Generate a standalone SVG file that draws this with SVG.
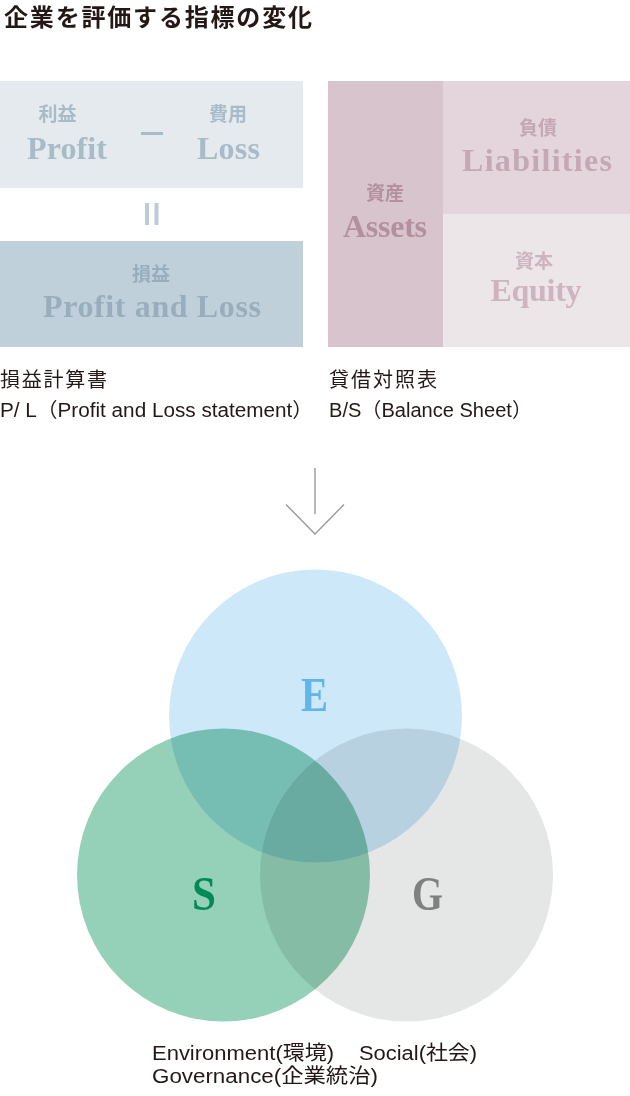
<svg xmlns="http://www.w3.org/2000/svg" width="630" height="1096" viewBox="0 0 630 1096">
<style>
.jp{font-family:"Noto Sans CJK JP","Liberation Sans",sans-serif}
.lbl{font-family:"Liberation Sans","Noto Sans CJK JP",sans-serif;fill:#231815}
.serif{font-family:"Liberation Serif","Noto Serif",serif;font-weight:bold}
.b{font-weight:bold}
.venn{mix-blend-mode:multiply}
</style>
<rect x="0" y="0" width="630" height="1096" fill="#ffffff"/>
<g id="title">
<text class="jp b" x="4" y="26" font-size="24" fill="#231815" textLength="308" lengthAdjust="spacing">企業を評価する指標の変化</text>
</g>
<g id="pl-top">
<rect x="0" y="81" width="303" height="107" fill="#e4eaee"/>
<text class="jp b" x="57.5" y="121" font-size="19" fill="#a8bbc8" text-anchor="middle">利益</text>
<text class="serif" x="67" y="158.5" font-size="32" fill="#a8bbc8" text-anchor="middle" textLength="80" lengthAdjust="spacing">Profit</text>
<rect x="141" y="132" width="22" height="3" fill="#a8bbc8"/>
<text class="jp b" x="228" y="121" font-size="19" fill="#a8bbc8" text-anchor="middle">費用</text>
<text class="serif" x="228.5" y="158.5" font-size="32" fill="#a8bbc8" text-anchor="middle" textLength="63" lengthAdjust="spacing">Loss</text>
</g>
<g id="pl-equals">
<rect x="145" y="203" width="4" height="22" fill="#bccbd6"/>
<rect x="154.5" y="203" width="4" height="22" fill="#bccbd6"/>
</g>
<g id="pl-bottom">
<rect x="0" y="241" width="303" height="106" fill="#bfd0da"/>
<text class="jp b" x="151" y="281" font-size="19" fill="#99aebd" text-anchor="middle">損益</text>
<text class="serif" x="152" y="317" font-size="32" fill="#99aebd" text-anchor="middle" textLength="218" lengthAdjust="spacing">Profit and Loss</text>
</g>
<g id="bs-assets">
<rect x="328" y="81" width="115" height="266" fill="#d8c4cd"/>
<text class="jp b" x="385" y="200" font-size="19" fill="#b3909f" text-anchor="middle">資産</text>
<text class="serif" x="385" y="237" font-size="32" fill="#b3909f" text-anchor="middle" textLength="84" lengthAdjust="spacing">Assets</text>
</g>
<g id="bs-liabilities">
<rect x="443" y="81" width="187" height="133" fill="#e4d5dc"/>
<text class="jp b" x="538" y="135" font-size="19" fill="#c4a8b5" text-anchor="middle">負債</text>
<text class="serif" x="537" y="171" font-size="32" fill="#c4a8b5" text-anchor="middle" textLength="150" lengthAdjust="spacing">Liabilities</text>
</g>
<g id="bs-equity">
<rect x="443" y="214" width="187" height="133" fill="#ede6e9"/>
<text class="jp b" x="534" y="268" font-size="19" fill="#cdb4bf" text-anchor="middle">資本</text>
<text class="serif" x="536" y="301" font-size="32" fill="#cdb4bf" text-anchor="middle" textLength="91" lengthAdjust="spacing">Equity</text>
</g>
<g id="pl-caption">
<text class="lbl" x="0" y="387" font-size="20" textLength="107" lengthAdjust="spacing">損益計算書</text>
<text class="lbl" x="0" y="417" font-size="20" textLength="313" lengthAdjust="spacingAndGlyphs">P/ L（Profit and Loss statement）</text>
</g>
<g id="bs-caption">
<text class="lbl" x="329" y="387" font-size="20" textLength="108" lengthAdjust="spacing">貸借対照表</text>
<text class="lbl" x="329" y="417" font-size="20" textLength="203" lengthAdjust="spacingAndGlyphs">B/S（Balance Sheet）</text>
</g>
<g id="connectors" fill="none" stroke="#9a9a9a" stroke-width="1.4">
<line x1="315" y1="468" x2="315" y2="514"/>
<polyline points="286,504.5 315,534 344,504.5"/>
</g>
<g id="venn">
<g id="circle-G"><circle class="venn" cx="406.5" cy="875" r="146.5" fill="#e5e6e6"/></g>
<g id="circle-E"><circle class="venn" cx="315.5" cy="716" r="146.5" fill="#cce8f9"/></g>
<g id="circle-S"><circle class="venn" cx="223.5" cy="875" r="146.5" fill="#94d1b8"/></g>
</g>
<g id="letters">
<text class="serif" x="314.5" y="710.5" font-size="48" fill="#62b5ea" text-anchor="middle" textLength="27" lengthAdjust="spacingAndGlyphs">E</text>
<text class="serif" x="204" y="910" font-size="48" fill="#008a55" text-anchor="middle" textLength="24" lengthAdjust="spacingAndGlyphs">S</text>
<text class="serif" x="427.5" y="910" font-size="48" fill="#7f8080" text-anchor="middle" textLength="31" lengthAdjust="spacingAndGlyphs">G</text>
</g>
<g id="legend">
<text class="lbl" x="152" y="1060" font-size="20" textLength="182" lengthAdjust="spacingAndGlyphs">Environment(環境)</text>
<text class="lbl" x="359" y="1060" font-size="20" textLength="118" lengthAdjust="spacingAndGlyphs">Social(社会)</text>
<text class="lbl" x="152" y="1083" font-size="20" textLength="226" lengthAdjust="spacingAndGlyphs">Governance(企業統治)</text>
</g>
</svg>
